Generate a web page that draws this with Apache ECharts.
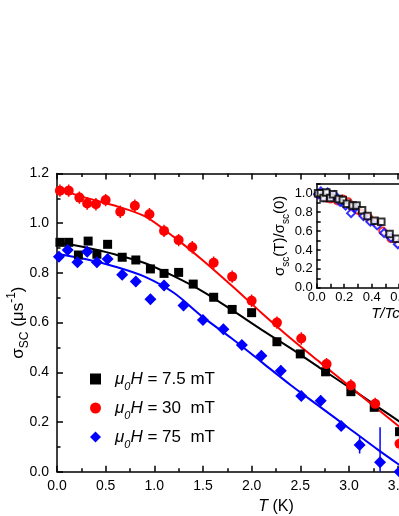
<!DOCTYPE html>
<html>
<head>
<meta charset="utf-8">
<script src="https://cdn.jsdelivr.net/npm/echarts/dist/echarts.min.js"></script>
<style>
html,body{margin:0;padding:0;background:#fff;}
#c{width:399px;height:516px;}
</style>
</head>
<body>
<div id="c"></div>
<script>
// ---- main panel data (T in K, sigma_sc in us^-1) ----
const blackT = [0.03,0.12,0.22,0.32,0.41,0.52,0.67,0.81,0.96,1.10,1.25,1.40,1.61,1.80,2.00,2.26,2.50,2.76,3.02,3.26,3.52];
const blackV = [0.923,0.923,0.872,0.928,0.875,0.915,0.863,0.852,0.816,0.798,0.802,0.755,0.702,0.653,0.640,0.523,0.474,0.402,0.322,0.259,0.161];
const redT = [0.03,0.12,0.23,0.31,0.40,0.50,0.65,0.80,0.95,1.10,1.25,1.39,1.61,1.80,2.00,2.26,2.51,2.77,3.02,3.27,3.52];
const redV = [1.131,1.131,1.103,1.079,1.076,1.093,1.046,1.070,1.036,0.969,0.932,0.903,0.841,0.785,0.688,0.600,0.536,0.433,0.347,0.273,0.113];
const redErr = [0.025,0.025,0.025,0.025,0.025,0.025,0.025,0.025,0.025,0.025,0.025,0.025,0.025,0.025,0.025,0.025,0.025,0.025,0.025,0.025,0.025];
const blueT = [0.02,0.11,0.21,0.31,0.41,0.52,0.67,0.81,0.96,1.10,1.30,1.50,1.71,1.90,2.10,2.30,2.51,2.71,2.92,3.11,3.32,3.52];
const blueV = [0.865,0.892,0.843,0.885,0.843,0.856,0.793,0.765,0.694,0.749,0.669,0.610,0.573,0.510,0.467,0.406,0.305,0.286,0.184,0.107,0.038,0.0];
const blueErr = [0.02,0.02,0.02,0.02,0.02,0.02,0.02,0.02,0.02,0.02,0.02,0.02,0.02,0.02,0.02,0.02,0.02,0.02,0.02,0.034,0.141,0.02];

// ---- fit curves ----
const fitT = [0,0.3,0.6,0.9,1.2,1.5,1.8,2.1,2.4,2.7,3.0,3.3,3.6];
const redFit = [1.138,1.102,1.070,1.028,0.945,0.850,0.747,0.640,0.537,0.441,0.346,0.250,0.155];
const blackFit = [0.922,0.902,0.874,0.840,0.787,0.725,0.650,0.572,0.497,0.418,0.340,0.260,0.180];
const blueFit = [0.877,0.855,0.825,0.785,0.720,0.622,0.535,0.442,0.349,0.262,0.175,0.088,0.005];

// ---- inset data (T/Tc, normalized sigma) ----
const insRedT = [0.01,0.03,0.05,0.07,0.10,0.12,0.15,0.19,0.23,0.26,0.30,0.33,0.38,0.43,0.48,0.54,0.60];
const insRedV = [0.99,0.99,0.97,0.95,0.94,0.96,0.92,0.94,0.91,0.85,0.82,0.79,0.74,0.69,0.60,0.52,0.47];
const insBlueT = [0.01,0.03,0.05,0.08,0.11,0.13,0.17,0.21,0.25,0.28,0.34,0.39,0.44,0.49,0.54,0.59];
const insBlueV = [0.99,1.02,0.96,1.01,0.96,0.98,0.91,0.87,0.79,0.85,0.76,0.70,0.66,0.58,0.53,0.46];
const insBlackT = [0.01,0.03,0.05,0.07,0.10,0.12,0.16,0.19,0.22,0.26,0.29,0.33,0.37,0.42,0.47,0.53,0.58];
const insBlackV = [1.00,1.00,0.95,1.01,0.95,0.99,0.94,0.93,0.89,0.87,0.87,0.82,0.76,0.71,0.70,0.57,0.52];

// ---- labels ----
const legendLabels = {
  'k': '{i|μ}{s|0}{i|H} = 7.5 mT',
  'r': '{i|μ}{s|0}{i|H} = 30  mT',
  'b': '{i|μ}{s|0}{i|H} = 75  mT'
};
const xName = '{i|T} (K)';
const yName = 'σ{s|SC} (μs{p|-1})';
const insYName = 'σ{s|sc}(T)/σ{s|sc}(0)';
const insXName = 'T/Tc';

const FONT = 'Liberation Sans, Arial, Helvetica, sans-serif';
const BLACK = '#000000', RED = '#ff0000', BLUE = '#0000ff';

function zip(a, b) { return a.map((v, i) => [v, b[i]]); }
function errData(t, v, e) { return t.map((x, i) => [x, v[i], e[i]]); }
function errRender(color) {
  return function (params, api) {
    const x = api.value(0), y = api.value(1), e = api.value(2);
    const p1 = api.coord([x, y - e]);
    const p2 = api.coord([x, y + e]);
    return { type: 'line', shape: { x1: p1[0], y1: p1[1], x2: p2[0], y2: p2[1] },
             style: { stroke: color, lineWidth: 1.5 } };
  };
}

const axisLineStyle = { color: '#000', width: 1.5 };
function mkX(grid, pos, opts) {
  return Object.assign({
    type: 'value', gridIndex: grid, position: pos,
    axisLine: { onZero: false, lineStyle: axisLineStyle },
    axisTick: { inside: true, length: 6, lineStyle: axisLineStyle },
    minorTick: { show: true, splitNumber: 2, length: 3.5, lineStyle: axisLineStyle },
    splitLine: { show: false }, minorSplitLine: { show: false },
    nameMoveOverlap: false
  }, opts);
}

const chart = echarts.init(document.getElementById('c'), null, { renderer: 'canvas' });
const rich1 = {
  i: { fontStyle: 'italic', fontSize: 16, fontFamily: FONT, color: '#000' },
  s: { fontSize: 11, fontFamily: FONT, color: '#000', verticalAlign: 'bottom', padding: [0, 0, -4, 0] },
  p: { fontSize: 11, fontFamily: FONT, color: '#000', verticalAlign: 'top', padding: [-4, 0, 0, 0] }
};
const richY = {
  s: { fontSize: 12, fontFamily: FONT, color: '#000', verticalAlign: 'bottom', padding: [0, 0, -4, 0] },
  p: { fontSize: 12, fontFamily: FONT, color: '#000', verticalAlign: 'top', padding: [-4, 0, 0, 0] }
};
const richLeg = {
  i: { fontStyle: 'italic', fontSize: 17, fontFamily: FONT, color: '#000' },
  s: { fontStyle: 'italic', fontSize: 11, fontFamily: FONT, color: '#000', verticalAlign: 'bottom', padding: [0, 0, -4, 0] }
};

const option = {
  animation: false,
  backgroundColor: '#fff',
  textStyle: { fontFamily: FONT },
  grid: [
    { left: 57, top: 173.5, width: 437.9, height: 298.2, containLabel: false, outerBoundsMode: 'none' },
    { left: 316.7, top: 183.9, width: 137.5, height: 103.8, containLabel: false, outerBoundsMode: 'none' }
  ],
  xAxis: [
    mkX(0, 'bottom', { min: 0, max: 4.5, interval: 0.5,
      axisLabel: { color: '#000', fontSize: 14, fontFamily: FONT, margin: 7, formatter: v => v.toFixed(1) },
      name: xName, nameLocation: 'middle', nameGap: 27,
      nameTextStyle: { color: '#000', fontSize: 16, fontFamily: FONT, rich: rich1 } }),
    mkX(0, 'top', { min: 0, max: 4.5, interval: 0.5, axisLabel: { show: false } }),
    mkX(1, 'bottom', { min: 0, max: 1.0, interval: 0.2,
      axisTick: { inside: true, length: 4, lineStyle: axisLineStyle },
      minorTick: { show: true, splitNumber: 2, length: 4, lineStyle: axisLineStyle },
      axisLabel: { color: '#000', fontSize: 13, fontFamily: FONT, margin: 3, formatter: v => v.toFixed(1) },
      name: insXName, nameLocation: 'middle', nameGap: 19,
      nameTextStyle: { color: '#000', fontSize: 15, fontStyle: 'italic', fontFamily: FONT } }),
    mkX(1, 'top', { min: 0, max: 1.0, interval: 0.2, axisLabel: { show: false },
      axisTick: { show: false }, minorTick: { show: false } })
  ],
  yAxis: [
    { type: 'value', gridIndex: 0, position: 'left', min: 0, max: 1.2, interval: 0.2,
      axisLine: { onZero: false, lineStyle: axisLineStyle },
      axisTick: { inside: true, length: 6, lineStyle: axisLineStyle },
      minorTick: { show: true, splitNumber: 2, length: 3.5, lineStyle: axisLineStyle },
      splitLine: { show: false },
      axisLabel: { color: '#000', fontSize: 14, fontFamily: FONT, margin: 8, formatter: v => v.toFixed(1) },
      name: yName, nameLocation: 'middle', nameRotate: 90, nameGap: 30, nameMoveOverlap: false,
      nameTextStyle: { color: '#000', fontSize: 17, fontFamily: FONT, rich: richY } },
    { type: 'value', gridIndex: 1, position: 'left', min: 0, max: 1.1, interval: 0.2,
      axisLine: { onZero: false, lineStyle: axisLineStyle },
      axisTick: { inside: true, length: 4, lineStyle: axisLineStyle },
      minorTick: { show: true, splitNumber: 2, length: 4, lineStyle: axisLineStyle },
      splitLine: { show: false },
      axisLabel: { color: '#000', fontSize: 13, fontFamily: FONT, margin: 4, showMaxLabel: false, formatter: v => v.toFixed(1) },
      name: insYName, nameLocation: 'middle', nameRotate: 90, nameGap: 29, nameMoveOverlap: false,
      nameTextStyle: { color: '#000', fontSize: 15, fontFamily: FONT,
        rich: { s: { fontSize: 10, fontFamily: FONT, color: '#000', verticalAlign: 'bottom', padding: [0, 0, -4, 0] } } } }
  ],
  legend: {
    data: ['k', 'r', 'b'],
    orient: 'vertical', left: 85, top: 365, itemWidth: 11, itemHeight: 11, itemGap: 7,
    formatter: n => legendLabels[n],
    textStyle: { color: '#000', fontSize: 17, fontFamily: FONT, lineHeight: 18, padding: [0, 0, 0, 9], rich: richLeg },
    selectedMode: false
  },
  series: [
    { type: 'line', name: 'fitK', xAxisIndex: 0, yAxisIndex: 0, data: zip(fitT, blackFit), smooth: 0.3,
      symbol: 'none', lineStyle: { color: BLACK, width: 2 }, z: 2, silent: true },
    { type: 'line', name: 'fitR', xAxisIndex: 0, yAxisIndex: 0, data: zip(fitT, redFit), smooth: 0.3,
      symbol: 'none', lineStyle: { color: RED, width: 2 }, z: 2, silent: true },
    { type: 'line', name: 'fitB', xAxisIndex: 0, yAxisIndex: 0, data: zip(fitT, blueFit), smooth: 0.3,
      symbol: 'none', lineStyle: { color: BLUE, width: 2 }, z: 2, silent: true },
    { type: 'custom', name: 'errR', xAxisIndex: 0, yAxisIndex: 0, data: errData(redT, redV, redErr),
      renderItem: errRender(RED), clip: true, z: 3, silent: true },
    { type: 'custom', name: 'errB', xAxisIndex: 0, yAxisIndex: 0, data: errData(blueT, blueV, blueErr),
      renderItem: errRender(BLUE), clip: true, z: 3, silent: true },
    { type: 'scatter', name: 'k', xAxisIndex: 0, yAxisIndex: 0, data: zip(blackT, blackV),
      symbol: 'rect', symbolSize: 9, itemStyle: { color: BLACK, opacity: 1 }, z: 4 },
    { type: 'scatter', name: 'r', xAxisIndex: 0, yAxisIndex: 0, data: zip(redT, redV),
      symbol: 'circle', symbolSize: 10, itemStyle: { color: RED, opacity: 1 }, z: 4 },
    { type: 'scatter', name: 'b', xAxisIndex: 0, yAxisIndex: 0, data: zip(blueT, blueV),
      symbol: 'diamond', symbolSize: 12, itemStyle: { color: BLUE, opacity: 1 }, z: 4 },
    { type: 'scatter', name: 'insR', xAxisIndex: 2, yAxisIndex: 1, data: zip(insRedT, insRedV),
      symbol: 'emptyCircle', symbolSize: 7, itemStyle: { color: RED, borderColor: RED, borderWidth: 1 }, z: 5 },
    { type: 'scatter', name: 'insB', xAxisIndex: 2, yAxisIndex: 1, data: zip(insBlueT, insBlueV),
      symbol: 'emptyDiamond', symbolSize: 8, itemStyle: { color: BLUE, borderColor: BLUE, borderWidth: 1 }, z: 5 },
    { type: 'scatter', name: 'insK', xAxisIndex: 2, yAxisIndex: 1, data: zip(insBlackT, insBlackV),
      symbol: 'emptyRect', symbolSize: 6.5, itemStyle: { color: BLACK, borderColor: BLACK, borderWidth: 1 }, z: 5 }
  ]
};
chart.setOption(option);
</script>
</body>
</html>
